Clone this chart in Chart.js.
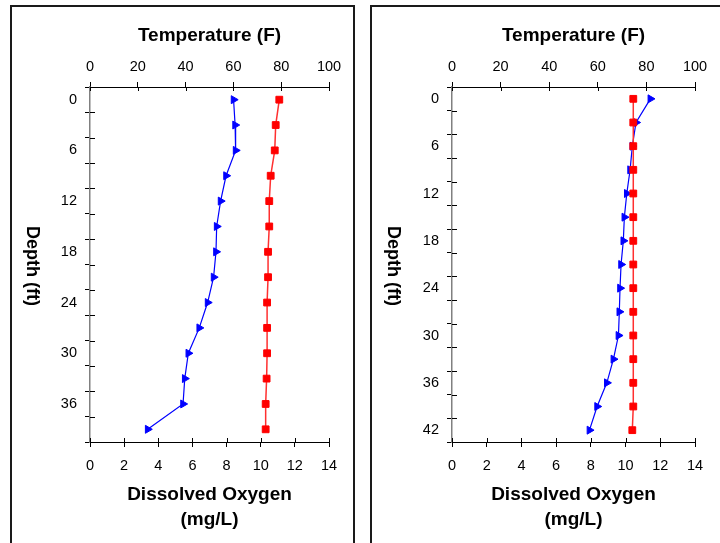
<!DOCTYPE html>
<html><head><meta charset="utf-8">
<script src="https://cdn.jsdelivr.net/npm/chart.js@4"></script>
<style>
html,body{margin:0;padding:0;background:#fff;}
body{width:720px;height:543px;position:relative;overflow:hidden;}
.box{position:absolute;top:5px;height:600px;box-sizing:border-box;border:2px solid #1a1a1a;}
canvas{position:absolute;top:0;}
.ylab{position:absolute;writing-mode:vertical-rl;font:bold 18px 'Liberation Sans',Arial,sans-serif;line-height:20px;width:20px;color:#000;top:266px;transform:translateY(-50%);white-space:nowrap;}
</style></head><body>
<div class="box" style="left:10px;width:345px"></div>
<div class="box" style="left:370px;width:400px"></div>
<canvas id="c1" width="360" height="543" style="left:0;width:360px;height:543px"></canvas>
<canvas id="c2" width="360" height="543" style="left:360px;width:360px;height:543px"></canvas>
<div class="ylab" style="left:23px">Depth (ft)</div>
<div class="ylab" style="left:384px">Depth (ft)</div>
<script>
// ---- Data ----
const depthsA = [0, 3, 6, 9, 12, 15, 18, 21, 24, 27, 30, 33, 36, 39];
const doA     = [8.41, 8.50, 8.53, 7.97, 7.65, 7.42, 7.38, 7.24, 6.89, 6.40, 5.76, 5.55, 5.45, 3.38];
const tempA   = [79.2, 77.7, 77.3, 75.6, 75.0, 75.0, 74.5, 74.5, 74.1, 74.1, 74.1, 73.9, 73.5, 73.5];

const depthsB = [0, 3, 6, 9, 12, 15, 18, 21, 24, 27, 30, 33, 36, 39, 42];
const doB     = [11.43, 10.60, 10.39, 10.26, 10.07, 9.93, 9.87, 9.74, 9.68, 9.64, 9.59, 9.30, 8.92, 8.36, 7.92];
const tempB   = [74.6, 74.6, 74.6, 74.6, 74.6, 74.6, 74.6, 74.6, 74.6, 74.6, 74.6, 74.6, 74.6, 74.6, 74.2];

const depthLabelsA = [0, 6, 12, 18, 24, 30, 36];
const depthMarksA  = [-1.5, 1.5, 4.5, 7.5, 10.5, 13.5, 16.5, 19.5, 22.5, 25.5, 28.5, 31.5, 34.5, 37.5, 40.5];
const depthLabelsB = [0, 6, 12, 18, 24, 30, 36, 42];
const depthMarksB  = [-1.5, 1.5, 4.5, 7.5, 10.5, 13.5, 16.5, 19.5, 22.5, 25.5, 28.5, 31.5, 34.5, 37.5, 40.5, 43.5];

const doTicks   = [0, 2, 4, 6, 8, 10, 12, 14];
const tempTicks = [0, 20, 40, 60, 80, 100];

const FONT = "'Liberation Sans', Arial, Helvetica, sans-serif";

// inner halves of crossing tick marks
const innerTicks = {
  id: 'innerTicks',
  beforeDatasetsDraw(chart, args, opts) {
    const ctx = chart.ctx, a = chart.chartArea;
    const {x, x2, y} = chart.scales;
    ctx.save();
    ctx.strokeStyle = '#000';
    ctx.lineWidth = 1;
    ctx.beginPath();
    x.ticks.forEach(t => { const p = Math.round(x.getPixelForValue(t.value)) + 0.5; ctx.moveTo(p, a.bottom); ctx.lineTo(p, a.bottom - 4); });
    x2.ticks.forEach(t => { const p = Math.round(x2.getPixelForValue(t.value)) + 0.5; ctx.moveTo(p, a.top); ctx.lineTo(p, a.top + 4); });
    opts.marks.forEach(v => { const p = Math.round(y.getPixelForValue(v)) + 0.5; ctx.moveTo(a.left, p); ctx.lineTo(a.left + 5, p); });
    ctx.stroke();
    ctx.restore();
  }
};

function build(id, depths, doVals, tempVals, yMax, labels, marks, plotLeft, plotRight) {
  const yTicks = Array.from(new Set([...marks, ...labels])).sort((p, q) => p - q);
  const tickFont = {family: FONT, size: 14.5};
  const titleFont = {family: FONT, size: 19, weight: 'bold', lineHeight: 1.3};
  return new Chart(document.getElementById(id), {
    type: 'scatter',
    data: {
      datasets: [
        {
          label: 'Temperature (F)',
          data: depths.map((d, i) => ({x: tempVals[i], y: d})),
          xAxisID: 'x2', yAxisID: 'y',
          showLine: true,
          borderColor: '#ff3030', borderWidth: 1.5,
          pointStyle: 'rect', pointRadius: 4.8,
          pointBackgroundColor: '#ff0000', pointBorderColor: '#ff0000', pointBorderWidth: 1
        },
        {
          label: 'Dissolved Oxygen (mg/L)',
          data: depths.map((d, i) => ({x: doVals[i], y: d})),
          xAxisID: 'x', yAxisID: 'y',
          showLine: true,
          borderColor: '#0000ff', borderWidth: 1.2,
          pointStyle: 'triangle', pointRotation: 90, pointRadius: 4.6,
          pointBackgroundColor: '#0000ff', pointBorderColor: '#0000ff', pointBorderWidth: 1
        }
      ]
    },
    options: {
      responsive: false, animation: false, devicePixelRatio: 1,
      layout: {padding: {left: 0, right: 360 - plotRight, top: 0, bottom: 0}},
      plugins: {legend: {display: false}, tooltip: {enabled: false}, innerTicks: {marks: marks}},
      scales: {
        x: {
          type: 'linear', position: 'bottom', min: 0, max: 14,
          afterBuildTicks: s => { s.ticks = doTicks.map(v => ({value: v})); },
          ticks: {padding: 10.5, color: '#000', font: tickFont, maxRotation: 0, autoSkip: false},
          grid: {drawOnChartArea: false, tickLength: 5, color: '#000', lineWidth: 1},
          border: {color: '#000', width: 1},
          title: {display: true, text: ['Dissolved Oxygen', '(mg/L)'], color: '#000', font: titleFont, padding: {top: 0, bottom: 11}},
          afterFit: s => { s.height = 101; }
        },
        x2: {
          type: 'linear', position: 'top', min: 0, max: 100,
          afterBuildTicks: s => { s.ticks = tempTicks.map(v => ({value: v})); },
          ticks: {padding: 6.5, color: '#000', font: tickFont, maxRotation: 0, autoSkip: false},
          grid: {drawOnChartArea: false, tickLength: 5, color: '#000', lineWidth: 1},
          border: {color: '#000', width: 1},
          title: {display: true, text: 'Temperature (F)', color: '#000', font: titleFont, padding: {top: 23, bottom: 0}},
          afterFit: s => { s.height = 87; }
        },
        y: {
          type: 'linear', position: 'left', reverse: true, min: -1.5, max: yMax,
          afterBuildTicks: s => { s.ticks = yTicks.map(v => ({value: v})); },
          ticks: {padding: 8, color: '#000', font: tickFont, autoSkip: false,
                  callback: v => labels.includes(v) ? String(v) : ''},
          grid: {drawOnChartArea: false, tickLength: 5, lineWidth: 1,
                 color: c => (c.tick && marks.includes(c.tick.value)) ? '#000' : 'rgba(0,0,0,0)'},
          border: {color: '#808080', width: 1.5},
          title: {display: false},
          afterFit: s => { s.width = plotLeft; }
        }
      }
    },
    plugins: [innerTicks]
  });
}

build('c1', depthsA, doA, tempA, 40.5, depthLabelsA, depthMarksA, 90, 329);
build('c2', depthsB, doB, tempB, 43.5, depthLabelsB, depthMarksB, 92, 335);
</script>
</body></html>
